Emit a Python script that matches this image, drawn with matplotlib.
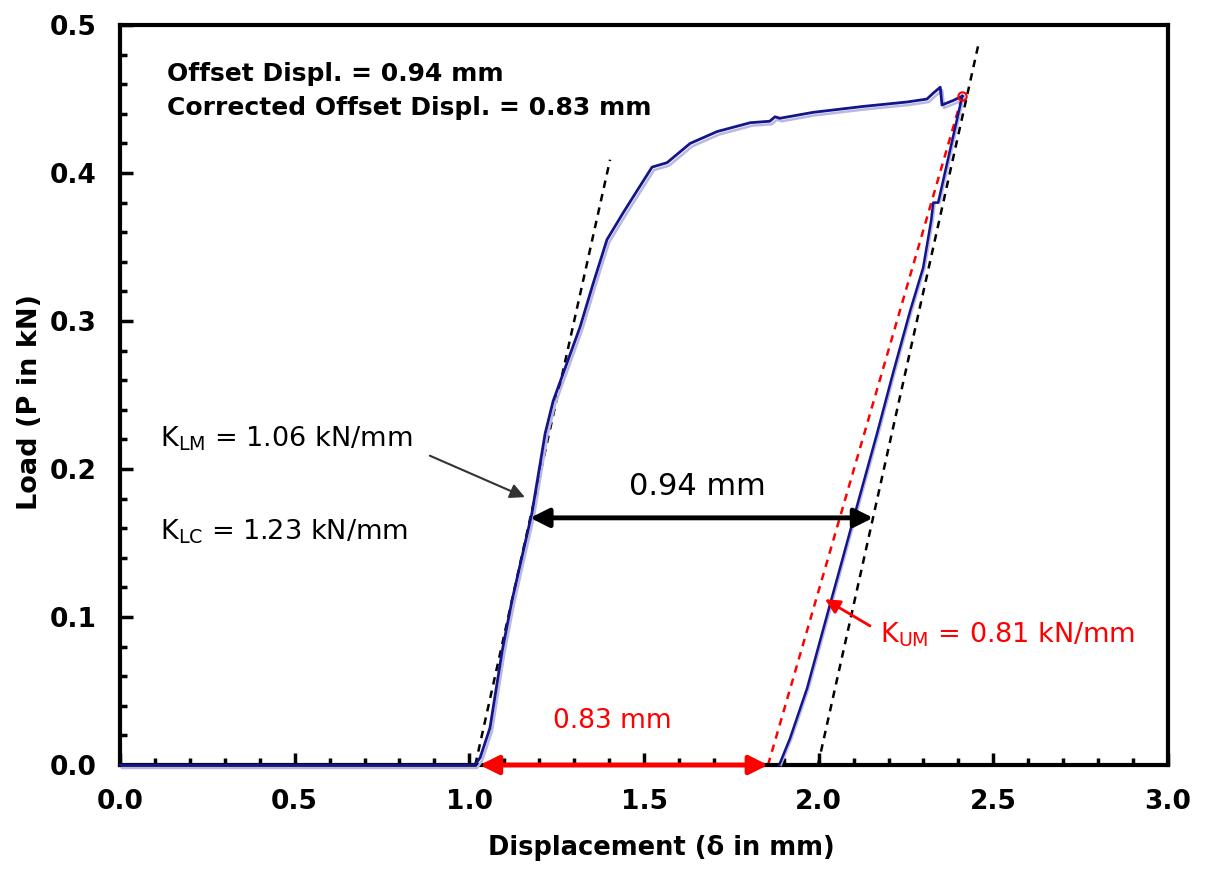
import matplotlib
matplotlib.use("Agg")
import matplotlib.pyplot as plt
from matplotlib.ticker import MultipleLocator, FormatStrFormatter

plt.rcParams['font.family'] = ['DejaVu Sans']
plt.rcParams['mathtext.fontset'] = 'dejavusans'

# ---- data ----
load_x = [0.0, 1.016, 1.031, 1.059, 1.094, 1.122, 1.179, 1.217, 1.240, 1.317, 1.354,
          1.394, 1.440, 1.480, 1.523, 1.566, 1.632, 1.709, 1.804, 1.860, 1.875, 1.889,
          1.984, 2.127, 2.253, 2.310, 2.328, 2.348, 2.353, 2.385, 2.411]
load_y = [0.0, 0.0, 0.005, 0.025, 0.077, 0.111, 0.170, 0.224, 0.246, 0.296, 0.325,
          0.355, 0.373, 0.388, 0.404, 0.407, 0.420, 0.428, 0.434, 0.435, 0.438, 0.437,
          0.441, 0.445, 0.448, 0.450, 0.454, 0.458, 0.446, 0.449, 0.452]
unload_x = [2.411, 2.342, 2.328, 2.322, 2.299, 2.262, 2.213, 2.167, 2.119, 2.090,
            2.061, 2.033, 2.004, 1.967, 1.918, 1.887]
unload_y = [0.452, 0.380, 0.380, 0.368, 0.336, 0.307, 0.265, 0.224, 0.183, 0.158,
            0.133, 0.109, 0.084, 0.052, 0.018, 0.0]

k_lm = 1.06            # slope of black tangent lines (kN/mm)
left_tangent_x0 = 1.017
right_tangent_x0 = 1.998
left_tangent_ytop = 0.409
right_tangent_ytop = 0.486
red_x = [1.855, 2.411]  # corrected unloading line
red_y = [0.0, 0.452]
peak = (2.411, 0.452)

offset_arrow = (1.174, 2.156, 0.167)   # x0, x1, y
corr_arrow = (1.030, 1.855, 0.0)

x_ticks = [0.0, 0.5, 1.0, 1.5, 2.0, 2.5, 3.0]
y_ticks = [0.0, 0.1, 0.2, 0.3, 0.4, 0.5]

fig = plt.figure(figsize=(12.06, 8.88), dpi=100)
ax = fig.add_axes([0.0995, 0.1385, 0.8690, 0.8333])

navy = '#14148c'
shadow = '#b8b8e0'
dash = (0, (3, 2.5))
# black tangent lines
ax.plot([left_tangent_x0, left_tangent_x0 + left_tangent_ytop / k_lm], [0, left_tangent_ytop],
        color='black', ls=dash, lw=1.8, zorder=2)
ax.plot([right_tangent_x0, right_tangent_x0 + right_tangent_ytop / k_lm], [0, right_tangent_ytop],
        color='black', ls=dash, lw=1.8, zorder=2)
# red corrected line
ax.plot(red_x, red_y, color='red', ls=dash, lw=1.8, zorder=2)

# curve (faint shadow + main)
ax.plot([x + 0.006 for x in load_x], [y - 0.002 for y in load_y], color=shadow, lw=1.8, zorder=3, clip_on=False)
ax.plot([x + 0.005 for x in unload_x], unload_y, color=shadow, lw=1.5, zorder=3, clip_on=False)
ax.plot(load_x, load_y, color=navy, lw=2.0, zorder=4, clip_on=False)
ax.plot(unload_x, unload_y, color=navy, lw=1.8, zorder=4, clip_on=False)
ax.plot([peak[0]], [peak[1]], marker='o', ms=6, mfc='none', mec='red', mew=1.5, zorder=5)

# arrows
ax.annotate('', xy=(offset_arrow[0], offset_arrow[2]), xytext=(offset_arrow[1], offset_arrow[2]),
            arrowprops=dict(arrowstyle='<|-|>', color='black', lw=3.5, mutation_scale=28,
                            shrinkA=0, shrinkB=0), zorder=6)
ax.text(1.652, 0.188, '0.94 mm', fontsize=22, ha='center', va='center', color='black')

ax.annotate('', xy=(corr_arrow[0], corr_arrow[2]), xytext=(corr_arrow[1], corr_arrow[2]),
            arrowprops=dict(arrowstyle='<|-|>', color='red', lw=3.5, mutation_scale=28,
                            shrinkA=0, shrinkB=0), zorder=6, annotation_clip=False)
ax.text(1.41, 0.030, '0.83 mm', fontsize=19, ha='center', va='center', color='red')

ax.annotate('', xy=(1.159, 0.181), xytext=(0.887, 0.209),
            arrowprops=dict(arrowstyle='-|>', color='#333333', lw=1.5, mutation_scale=22,
                            shrinkA=0, shrinkB=0), zorder=6)
ax.text(0.115, 0.2205, r'K$_{\mathrm{LM}}$ = 1.06 kN/mm', fontsize=19.5, ha='left', va='center')
ax.text(0.115, 0.1575, r'K$_{\mathrm{LC}}$ = 1.23 kN/mm', fontsize=19.5, ha='left', va='center')

ax.annotate('', xy=(2.018, 0.112), xytext=(2.147, 0.094),
            arrowprops=dict(arrowstyle='-|>', color='red', lw=2.0, mutation_scale=22,
                            shrinkA=0, shrinkB=0), zorder=6)
ax.text(2.176, 0.088, r'K$_{\mathrm{UM}}$ = 0.81 kN/mm', fontsize=19.5, ha='left', va='center', color='red')

ax.text(0.135, 0.467, 'Offset Displ. = 0.94 mm', fontsize=18, ha='left', va='center', fontweight='semibold')
ax.text(0.135, 0.444, 'Corrected Offset Displ. = 0.83 mm', fontsize=18, ha='left', va='center', fontweight='semibold')

ax.set_xlim(0, 3.0)
ax.set_ylim(0, 0.5)
ax.set_xticks(x_ticks)
ax.set_yticks(y_ticks)
ax.xaxis.set_major_formatter(FormatStrFormatter('%.1f'))
ax.yaxis.set_major_formatter(FormatStrFormatter('%.1f'))
ax.xaxis.set_minor_locator(MultipleLocator(0.1))
ax.yaxis.set_minor_locator(MultipleLocator(0.02))
ax.tick_params(which='both', direction='in', width=2.5, labelsize=19, top=False, right=False)
ax.tick_params(which='major', length=9, pad=17)
ax.tick_params(which='minor', length=5)
for lab in ax.get_xticklabels() + ax.get_yticklabels():
    lab.set_fontweight('bold')
for s in ax.spines.values():
    s.set_linewidth(3.0)

ax.set_xlabel('Displacement (δ in mm)', fontsize=18.5, fontweight='bold')
ax.xaxis.set_label_coords(0.517, -0.095)
ax.set_ylabel('Load (P in kN)', fontsize=19.5, fontweight='bold')
ax.yaxis.set_label_coords(-0.073, 0.49)

fig.savefig('out.png', dpi=100)
